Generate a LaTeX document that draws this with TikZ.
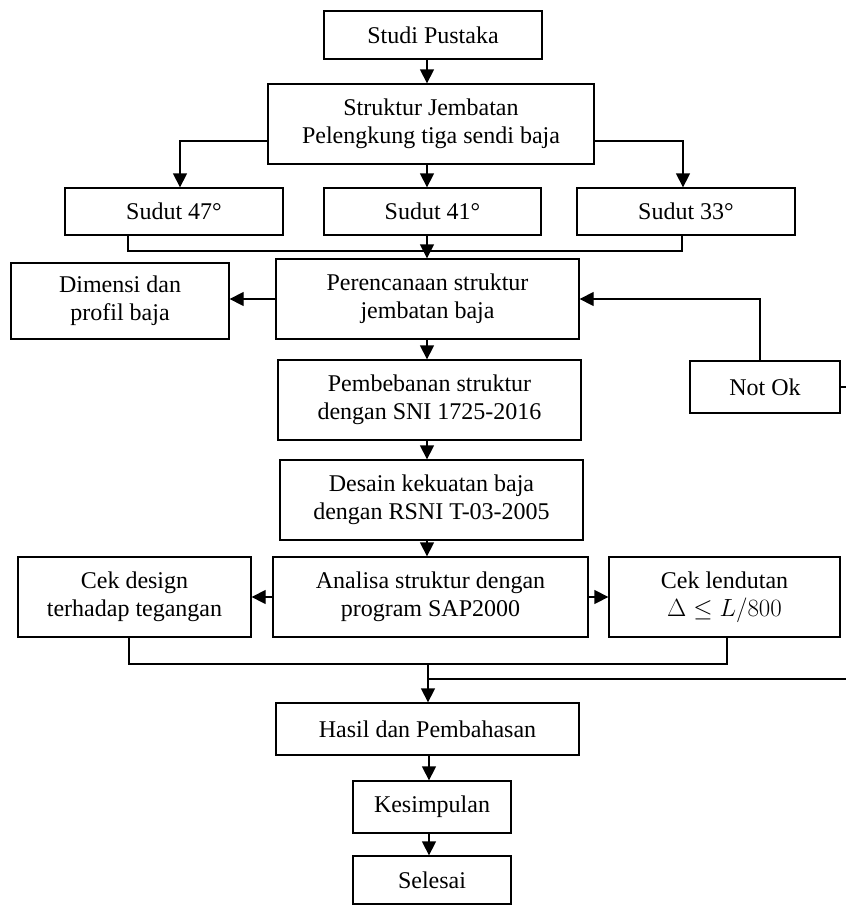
\documentclass[tikz,border=0pt]{standalone}
\usepackage{fontspec}
\setmainfont{Liberation Serif}
\usetikzlibrary{arrows.meta}

\tikzset{
  kotak/.style={draw,line width=1.3pt,align=center,inner sep=0pt,
    font=\fontsize{24}{28}\selectfont},
  panah/.style={line width=1.3pt,-{Triangle[length=14pt,width=14pt]}},
  garis/.style={line width=1.3pt}
}

\begin{document}
\begin{tikzpicture}[x=1pt,y=-1pt]
  \clip (0,0) rectangle (846,905);
  % sumbu tengah
  \coordinate (tengah) at (427,0);
  % baris atas
  \node[kotak,minimum width=218pt,minimum height=48pt] (studi) at (433,35) {Studi Pustaka};
  \node[kotak,minimum width=326pt,minimum height=80pt] (struktur) at (431,124)
    {Struktur Jembatan\\Pelengkung tiga sendi baja};
  % tiga sudut
  \node[kotak,minimum width=218pt,minimum height=47pt] (s47) at (174,211.5) {Sudut 47°};
  \node[kotak,minimum width=217pt,minimum height=47pt] (s41) at (432.5,211.5) {Sudut 41°};
  \node[kotak,minimum width=218pt,minimum height=47pt] (s33) at (686,211.5) {Sudut 33°};
  % perencanaan
  \node[kotak,minimum width=303pt,minimum height=80pt] (perenc) at (427.5,299)
    {Perencanaan struktur\\jembatan baja};
  \node[kotak,minimum width=218pt,minimum height=76pt] (dimensi) at (120,301)
    {Dimensi dan\\profil baja};
  \node[kotak,minimum width=150pt,minimum height=52pt] (notok) at (765,387) {Not Ok};
  % pembebanan dan desain
  \node[kotak,minimum width=303pt,minimum height=80pt] (pembeb) at (429.5,400)
    {Pembebanan struktur\\dengan SNI 1725-2016};
  \node[kotak,minimum width=303pt,minimum height=80pt] (desain) at (431.5,500)
    {Desain kekuatan baja\\dengan RSNI T-03-2005};
  % analisa
  \node[kotak,minimum width=315pt,minimum height=80pt] (analisa) at (430.5,597)
    {Analisa struktur dengan\\program SAP2000};
  \node[kotak,minimum width=233pt,minimum height=80pt] (cekdes) at (134.5,597)
    {Cek design\\terhadap tegangan};
  \node[kotak,minimum width=231pt,minimum height=80pt] (ceklen) at (724.5,597)
    {Cek lendutan\\$\Delta \leq L/800$};
  % akhir
  \node[kotak,minimum width=303pt,minimum height=52pt] (hasil) at (427.5,729) {Hasil dan Pembahasan};
  \node[kotak,minimum width=158pt,minimum height=52pt] (kesim) at (432,807) {Kesimpulan};
  \node[kotak,minimum width=158pt,minimum height=48pt] (selesai) at (432,880) {Selesai};

  \draw[panah] (studi.south -| tengah) -- (struktur.north -| tengah);
  \draw[panah] ([yshift=-17pt]struktur.west) -| ([xshift=6pt]s47.north);
  \draw[panah] ([yshift=-17pt]struktur.east) -| ([xshift=-3pt]s33.north);
  \draw[panah] (struktur.south -| tengah) -- (s41.north -| tengah);
  % sambungan sudut
  \coordinate (sambung1) at (427,251);
  \draw[garis] ([xshift=-46pt]s47.south) |- (sambung1) -| ([xshift=-4pt]s33.south);
  \draw[panah] (s41.south -| tengah) -- (perenc.north -| tengah);
  \draw[panah] (perenc.west) -- (dimensi.east |- perenc.west);
  \draw[panah] ([xshift=-5pt]notok.north) |- (perenc.east);
  \draw[panah] (perenc.south -| tengah) -- (pembeb.north -| tengah);
  \draw[panah] (pembeb.south -| tengah) -- (desain.north -| tengah);
  \draw[panah] (desain.south -| tengah) -- (analisa.north -| tengah);
  \draw[panah] (analisa.west) -- (cekdes.east);
  \draw[panah] (analisa.east) -- (ceklen.west);
  % sambungan cek
  \coordinate (sambung2) at (428,664);
  \draw[garis] ([xshift=-5.5pt]cekdes.south) |- (sambung2) -| ([xshift=2.5pt]ceklen.south);
  \draw[panah] (sambung2) -- (hasil.north -| sambung2);
  % kembali ke Not Ok
  \draw[garis] (428,679) -- (870,679) |- (notok.east);
  \draw[panah] (hasil.south -| 429,0) -- (kesim.north -| 429,0);
  \draw[panah] (kesim.south -| 429,0) -- (selesai.north -| 429,0);
\end{tikzpicture}
\end{document}
